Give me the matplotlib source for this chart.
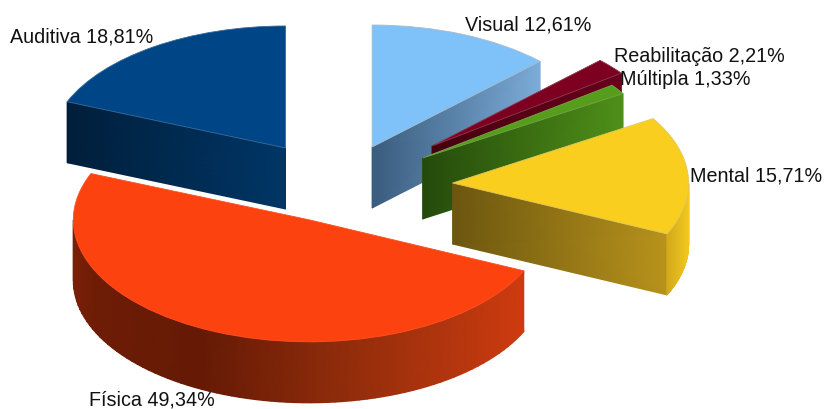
import numpy as np
import matplotlib
matplotlib.use("Agg")
import matplotlib.pyplot as plt
from matplotlib.colors import LinearSegmentedColormap

plt.rcParams['font.family'] = ['Liberation Sans', 'DejaVu Sans']

names = ["Visual", "Reabilitação", "Múltipla", "Mental", "Física", "Auditiva"]
shares = [12.61, 2.21, 1.33, 15.71, 49.34, 18.81]

top_colors = ["#7fc2fa", "#7e0021", "#579d1c", "#f9ce1f", "#fc430f", "#004586"]
edge_colors = ["#a9bccb", "#8a3a50", "#6fa64a", "#e0c860", "#fc4f20", "#3a6a9a"]

# how far each slice is pulled out, in pie radii (x and y differ, fake perspective)
shift_x = [0.153, 0.407, 0.367, 0.494, -0.113, -0.214]
shift_y = [0.295, 0.303, 0.205, 0.000, -0.302, 0.287]

# wall colours from apex to rim, rim colours from left to right
wall_colors = [["#3a5c7d", "#7cacd8"], ["#45000f", "#6a001c"], ["#254a0c", "#4f9019"],
               ["#6c5610", "#b8931c"], ["#651a05", "#cf3a0f"], ["#003666", "#001f3b"]]
rim_colors = {
    3: [(0, "#d2a91c"), (1, "#f2c81e")],
    4: [(0, "#7a2008"), (0.05, "#6e1c06"), (0.28, "#651a05"), (0.57, "#8c2b0a"),
        (0.85, "#b5360e"), (1, "#cf3a0f")],
}

# label text position in pixels (left, baseline)
label_pos = [(465, 30.5), (614, 62), (620, 85), (690, 181), (89, 405), (10, 42.5)]

W, H = 824, 409
RX, RY = 236, 122      # pie radii on screen
CX, CY = 336, 183      # unexploded centre on screen
DEPTH = 61 / RY

fig = plt.figure(figsize=(W / 100, H / 100), dpi=100)
ax = fig.add_axes([0, 0, 1, 1])

wedges, _ = ax.pie(shares, startangle=90, counterclock=False, radius=1)
ax.set_aspect('auto')
ax.set_xlim(-CX / RX, (W - CX) / RX)
ax.set_ylim((CY - H) / RY, CY / RY)


def gradient(X, Y, t, stops, z):
    cmap = LinearSegmentedColormap.from_list("side", stops)
    ax.pcolormesh(X, Y, t, shading='gouraud', cmap=cmap, vmin=0, vmax=1, zorder=z)


for i, w in enumerate(wedges):
    x0 = shift_x[i]
    y0 = shift_y[i]
    w.set_center((x0, y0))
    w.set_facecolor(top_colors[i])
    w.set_edgecolor(edge_colors[i])
    w.set_linewidth(0.6)
    z = 10 + 3 * i
    w.set_zorder(z + 2)

    # cut walls, only the ones turned to the viewer
    for theta, side in [(w.theta1, 1), (w.theta2, -1)]:
        c = np.cos(np.radians(theta))
        if c * side > 1e-6:
            xe = x0 + c
            ye = y0 + np.sin(np.radians(theta))
            X = np.array([[x0, xe], [x0, xe]])
            Y = np.array([[y0, ye], [y0 - DEPTH, ye - DEPTH]])
            t = np.array([[0.0, 1.0], [0.0, 1.0]])
            gradient(X, Y, t, wall_colors[i], z)

    # outer rim where it faces down
    a = max(w.theta1, -180)
    b = min(w.theta2, 0)
    if b > a and i in rim_colors:
        th = np.radians(np.linspace(a, b, 80))
        xs = x0 + np.cos(th)
        ys = y0 + np.sin(th)
        X = np.vstack([xs, xs])
        Y = np.vstack([ys, ys - DEPTH])
        t = (xs - xs.min()) / (xs.max() - xs.min())
        gradient(X, Y, np.vstack([t, t]), rim_colors[i], z + 1)

for name, share, pos in zip(names, shares, label_pos):
    label = f"{name} {share:.2f}%".replace(".", ",")
    fig.text(pos[0] / W, 1 - pos[1] / H, label, fontsize=14.2, color="#111111",
             va='baseline', ha='left', zorder=100)

ax.axis('off')
fig.savefig("out.png", dpi=100, facecolor="white")
